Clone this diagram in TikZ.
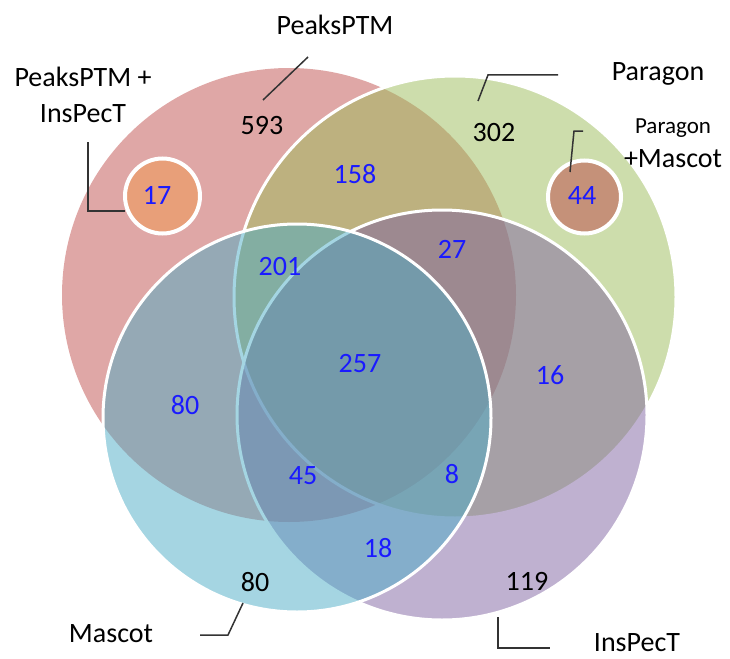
\documentclass[tikz,border=0pt]{standalone}
\usepackage{fontspec}
\setmainfont{Carlito}
\definecolor{cred}{HTML}{C0504D}
\definecolor{cgreen}{HTML}{9BBB59}
\definecolor{caqua}{HTML}{4BACC6}
\definecolor{cpurple}{HTML}{8064A2}
\definecolor{corange}{HTML}{E89F79}
\definecolor{cbrown}{HTML}{C59179}
\definecolor{numblue}{HTML}{1A1AFF}
\definecolor{leadgray}{HTML}{333333}
\tikzset{
  setfill/.style={fill=#1, fill opacity=0.5},
  setring/.style={draw=white, line width=3pt},
  numlbl/.style={anchor=base, inner sep=0pt, text=numblue, font=\fontsize{28}{30}\selectfont},
  cntlbl/.style={anchor=base, inner sep=0pt, text=black, font=\fontsize{28}{30}\selectfont},
  namelbl/.style={anchor=base, inner sep=0pt, text=black, font=\fontsize{28}{30}\selectfont},
  smalllbl/.style={anchor=base, inner sep=0pt, text=black, font=\fontsize{23}{25}\selectfont},
  leader/.style={draw=leadgray, line width=1.5pt},
  dotcircle/.style={draw=white, line width=4pt}
}
\begin{document}
\begin{tikzpicture}[x=1pt, y=-1pt]
\useasboundingbox (0,0) rectangle (730,658);
% main sets
\fill[setfill=cred] (289,295) circle[radius=227];
\filldraw[setfill=cgreen, setring] (455,297) circle[radius=221];
\filldraw[setfill=cpurple, setring] (442,415) circle[radius=205];
\filldraw[setfill=caqua, setring] (297,418) circle[radius=194];
% small circles
\filldraw[fill=corange, dotcircle] (162.5,196) circle[radius=37.5];
\filldraw[fill=cbrown, dotcircle] (584.5,197) circle[radius=36.5];
% counts
\node[cntlbl] (n593) at (262,135) {593};
\node[cntlbl] (n302) at (494,141) {302};
\node[cntlbl] (n80b) at (255,591) {80};
\node[cntlbl] (n119) at (527,590) {119};
\node[numlbl] (n17) at (157,204) {17};
\node[numlbl] (n44) at (582,204) {44};
\node[numlbl] (n158) at (355,183) {158};
\node[numlbl] (n201) at (280,275) {201};
\node[numlbl] (n27) at (452,258) {27};
\node[numlbl] (n257) at (360,372) {257};
\node[numlbl] (n16) at (550,384) {16};
\node[numlbl] (n80) at (185,414) {80};
\node[numlbl] (n45) at (303,484) {45};
\node[numlbl] (n8) at (452,483) {8};
\node[numlbl] (n18) at (378,557) {18};
% names
\node[namelbl] (lpeaks) at (335,35) {PeaksPTM};
\node[namelbl] (lpi1) at (83,87) {PeaksPTM +};
\node[namelbl] (lpi2) at (83,123) {InsPecT};
\node[namelbl] (lparagon) at (658,81) {Paragon};
\node[smalllbl] (lpm1) at (673,133) {Paragon};
\node[namelbl] (lpm2) at (673,167) {+Mascot};
\node[namelbl] (lmascot) at (111,642) {Mascot};
\node[namelbl] (linspect) at (637,651) {InsPecT};
% leader lines
\coordinate (a1) at (308,57);
\coordinate (a2) at (263,100);
\draw[leader] (a1) -- (a2);
\coordinate (b1) at (558,75);
\coordinate (b2) at (488,75);
\coordinate (b3) at (478,101);
\draw[leader] (b1) -- (b2) -- (b3);
\coordinate (c1) at (88,142);
\coordinate (c2) at (88,211);
\coordinate (c3) at (125,211);
\draw[leader] (c1) -- (c2) -- (c3);
\coordinate (d1) at (583,131);
\coordinate (d2) at (574,131);
\coordinate (d3) at (570,172);
\draw[leader] (d1) -- (d2) -- (d3);
\coordinate (e1) at (200,635);
\coordinate (e2) at (228,635);
\coordinate (e3) at (243,603);
\draw[leader] (e1) -- (e2) -- (e3);
\coordinate (f1) at (498,617);
\coordinate (f2) at (498,648);
\coordinate (f3) at (550,648);
\draw[leader] (f1) -- (f2) -- (f3);
\end{tikzpicture}
\end{document}
